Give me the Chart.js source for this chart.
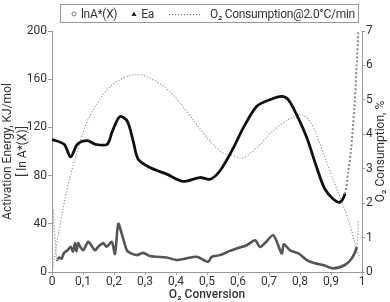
<!DOCTYPE html>
<html>
<head>
<meta charset="utf-8">
<script src="https://cdn.jsdelivr.net/npm/chart.js@4.4.1/dist/chart.umd.min.js"></script>
<style>
  body { margin: 0; background: #fff; font-family: Roboto, "Noto Sans", sans-serif; color: #333; }
  #wrap { position: relative; width: 390px; height: 302px; }
  #legend {
    position: absolute; left: 60px; top: 4px; width: 299px; height: 19px;
    border: 1px solid #999; box-sizing: border-box; white-space: nowrap;
    display: flex; align-items: center; font-size: 12px; color: #333; padding-left: 10px;
    letter-spacing: -0.3px;
  }
  #legend .item { display: flex; align-items: center; }
  #legend canvas { margin-right: 4px; }
</style>
</head>
<body>
<div id="wrap">
  <canvas id="chart" width="390" height="302"></canvas>
  <div id="legend"></div>
</div>
<script>
// lnA*(X) series (left axis)
const lnaX = [0, 0.004, 0.008, 0.012, 0.016, 0.023, 0.031, 0.039, 0.05, 0.06, 0.068, 0.074, 0.079, 0.084, 0.091, 0.101, 0.117, 0.139, 0.149, 0.165, 0.176, 0.193, 0.203, 0.214, 0.228, 0.239, 0.246, 0.273, 0.294, 0.316, 0.338, 0.37, 0.402, 0.434, 0.467, 0.504, 0.515, 0.542, 0.574, 0.596, 0.628, 0.655, 0.671, 0.687, 0.714, 0.741, 0.748, 0.768, 0.795, 0.822, 0.848, 0.875, 0.907, 0.945, 0.967, 0.983, 0.988, 0.994];
const lnaY = [3, 52, 34, 20, 10, 12, 11, 16, 18, 21, 17, 24, 17, 24, 21, 18, 25, 18, 21, 24, 21, 25, 15, 40, 29, 19.5, 16.7, 14, 15.9, 13.2, 12.6, 12.1, 9.9, 11.3, 12.6, 8.5, 12.6, 14, 17.5, 19.5, 22.2, 26.3, 20.8, 24.1, 30.5, 15.4, 23, 18, 15.4, 9.9, 7.2, 5.8, 3, 5.8, 11.3, 20.8, 43];

// Activation energy Ea (left axis)
const eaX = [0, 0.039, 0.06, 0.082, 0.114, 0.14, 0.178, 0.195, 0.219, 0.243, 0.262, 0.278, 0.316, 0.37, 0.424, 0.477, 0.51, 0.542, 0.585, 0.617, 0.66, 0.703, 0.741, 0.762, 0.789, 0.822, 0.854, 0.88, 0.907, 0.929, 0.945, 0.956, 0.964, 0.975, 0.983, 0.988];
const eaY = [110, 106, 95.5, 106, 109, 106, 106, 117, 129, 125, 108.6, 93.6, 86.7, 81.2, 75.2, 78.4, 77, 84, 103, 119.6, 137.4, 143, 145.7, 143, 130.6, 111.4, 86.7, 68.9, 60.6, 58, 65, 84, 100, 135, 172, 199];

// O2 consumption @2.0°C/min (right axis, %)
const o2X = [0, 0.023, 0.05, 0.082, 0.114, 0.165, 0.209, 0.273, 0.327, 0.38, 0.434, 0.488, 0.542, 0.585, 0.617, 0.66, 0.725, 0.8, 0.832, 0.865, 0.9, 0.935, 0.96, 0.985, 0.994];
const o2Y = [0, 1.2, 2.46, 3.51, 4.38, 5.15, 5.53, 5.74, 5.58, 5.24, 4.67, 4.04, 3.51, 3.37, 3.32, 3.61, 4.19, 4.57, 4.38, 3.7, 2.85, 2.03, 1.4, 0.6, 0.4];

const xTicks = [0, 0.1, 0.2, 0.3, 0.4, 0.5, 0.6, 0.7, 0.8, 0.9, 1];
const leftTicks = [0, 40, 80, 120, 160, 200];
const rightTicks = [0, 1, 2, 3, 4, 5, 6, 7];

const seriesLabels = ['lnA*(X)', 'Ea', 'O\u2082 Consumption@2.0°C/min'];

const FONT = 'Roboto, "Noto Sans", sans-serif';

function pts(xs, ys) {
  return xs.map((x, i) => ({ x: x, y: ys[i] }));
}

function fmtX(v) {
  if (v === 0) return '0';
  if (Math.abs(v - 1) < 1e-9) return '1';
  return v.toFixed(1).replace('.', ',');
}

const rightTitle = {
  id: 'rightTitle',
  afterDraw(chart) {
    const ctx = chart.ctx;
    const area = chart.chartArea;
    ctx.save();
    ctx.translate(chart.width - 9, (area.top + area.bottom) / 2);
    ctx.rotate(-Math.PI / 2);
    ctx.font = '12px ' + FONT;
    ctx.fillStyle = '#333';
    ctx.textAlign = 'center';
    ctx.textBaseline = 'middle';
    ctx.fillText('O\u2082 Consumption, %', 0, 0);
    ctx.restore();
  }
};

const ctx = document.getElementById('chart').getContext('2d');
new Chart(ctx, {
  type: 'line',
  data: {
    datasets: [
      {
        label: seriesLabels[0],
        data: pts(lnaX, lnaY),
        yAxisID: 'y',
        borderColor: '#555',
        borderWidth: 2.6,
        pointRadius: 0,
        tension: 0.25,
        segment: {
          borderColor: c => (c.p0.parsed.x < 0.015 || c.p1.parsed.x > 0.985) ? '#aaa' : undefined,
          borderWidth: c => (c.p0.parsed.x < 0.015 || c.p1.parsed.x > 0.985) ? 1.2 : undefined,
          borderDash: c => (c.p0.parsed.x < 0.015 || c.p1.parsed.x > 0.985) ? [1.5, 1.5] : undefined
        }
      },
      {
        label: seriesLabels[1],
        data: pts(eaX, eaY),
        yAxisID: 'y',
        borderColor: '#111',
        borderWidth: 2.8,
        pointRadius: 0,
        tension: 0.3,
        segment: {
          borderColor: c => c.p0.parsed.x >= 0.944 ? '#888' : undefined,
          borderWidth: c => c.p0.parsed.x >= 0.944 ? 2 : undefined,
          borderDash: c => c.p0.parsed.x >= 0.944 ? [2, 2] : undefined
        }
      },
      {
        label: seriesLabels[2],
        data: pts(o2X, o2Y),
        yAxisID: 'y1',
        borderColor: '#999',
        borderWidth: 1.2,
        borderDash: [1.2, 1.8],
        pointRadius: 0,
        tension: 0.35
      }
    ]
  },
  options: {
    responsive: false,
    animation: false,
    layout: { padding: { top: 31, right: 0, bottom: 0, left: 0 } },
    plugins: {
      legend: { display: false },
      tooltip: { enabled: false }
    },
    scales: {
      x: {
        type: 'linear',
        min: 0,
        max: 1,
        afterBuildTicks: s => { s.ticks = xTicks.map(v => ({ value: v })); },
        afterFit: s => { s.height = 30; },
        ticks: { color: '#333', font: { family: FONT, size: 12 }, padding: 0, maxRotation: 0, callback: v => fmtX(v) },
        grid: { drawOnChartArea: false, tickLength: 3, color: '#999' },
        border: { color: '#999' },
        title: { display: true, text: 'O\u2082 Conversion', color: '#333', font: { family: FONT, size: 12, weight: '500' }, padding: { top: 0, bottom: 0 } }
      },
      y: {
        position: 'left',
        min: 0,
        max: 200,
        afterBuildTicks: s => { s.ticks = leftTicks.map(v => ({ value: v })); },
        afterFit: s => { s.width = 52; },
        ticks: { color: '#333', font: { family: FONT, size: 12 }, padding: 1 },
        grid: { drawOnChartArea: false, tickLength: 4, color: '#999' },
        border: { color: '#999' },
        title: { display: true, text: ['Activation Energy, KJ/mol', '[ ln A*(X)]'], color: '#333', font: { family: FONT, size: 12 }, padding: { top: 1, bottom: 0 } }
      },
      y1: {
        position: 'right',
        min: 0,
        max: 7,
        afterBuildTicks: s => { s.ticks = rightTicks.map(v => ({ value: v })); },
        afterFit: s => { s.width = 28; },
        ticks: { color: '#333', font: { family: FONT, size: 12 }, padding: 1 },
        grid: { drawOnChartArea: false, tickLength: 3, color: '#999' },
        border: { color: '#999' }
      }
    }
  },
  plugins: [rightTitle]
});

// html legend with a box around it
function symbol(kind) {
  const c = document.createElement('canvas');
  const w = kind === 'dots' ? 31 : 6;
  c.width = w; c.height = 8;
  c.style.width = w + 'px'; c.style.height = '8px';
  const g = c.getContext('2d');
  if (kind === 'circle') {
    g.strokeStyle = '#777'; g.lineWidth = 1;
    g.beginPath(); g.arc(3, 4, 2, 0, Math.PI * 2); g.stroke();
  } else if (kind === 'triangle') {
    g.fillStyle = '#222';
    g.beginPath(); g.moveTo(3, 1.5); g.lineTo(5.5, 6); g.lineTo(0.5, 6); g.closePath(); g.fill();
  } else {
    g.fillStyle = '#777';
    for (let x = 0; x < w; x += 3) g.fillRect(x, 4, 1.2, 1.2);
  }
  return c;
}

const legend = document.getElementById('legend');
const kinds = ['circle', 'triangle', 'dots'];
const gaps = [0, 14, 15];
const symGap = [4, 4, 10];
seriesLabels.forEach((label, i) => {
  const item = document.createElement('div');
  item.className = 'item';
  item.style.marginLeft = gaps[i] + 'px';
  const s = symbol(kinds[i]);
  s.style.marginRight = symGap[i] + 'px';
  item.appendChild(s);
  const t = document.createElement('span');
  t.textContent = label;
  item.appendChild(t);
  legend.appendChild(item);
});
</script>
</body>
</html>
